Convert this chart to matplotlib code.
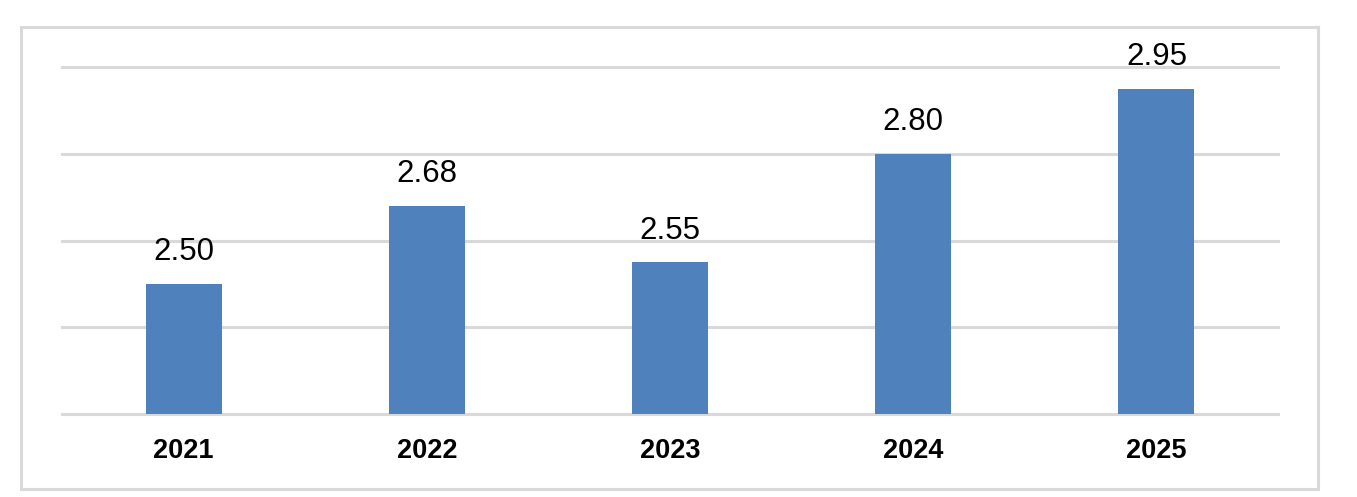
import matplotlib.pyplot as plt
from matplotlib.patches import Rectangle

years = ['2021', '2022', '2023', '2024', '2025']
values = [2.50, 2.68, 2.55, 2.80, 2.95]
labels = ['2.50', '2.68', '2.55', '2.80', '2.95']
grid_ticks = [2.2, 2.4, 2.6, 2.8, 3.0]

plt.rcParams['font.family'] = ['Liberation Sans', 'DejaVu Sans']

fig = plt.figure(figsize=(13.57, 4.97), dpi=100)
ax = fig.add_axes([62/1357, 1-414/497, (1278-62)/1357, (414-67)/497])

x = range(len(years))
ax.bar(x, values, width=0.3125, color='#4F81BD', zorder=3)
for i, v in enumerate(values):
    ax.annotate(labels[i], (i, v), xytext=(0, 17), textcoords='offset points',
                ha='center', va='baseline', fontsize=22.5, color='black')

ax.set_xlim(-0.5, len(years) - 0.5)
ax.set_ylim(2.2, 3.0)
ax.set_yticks(grid_ticks)
ax.yaxis.grid(True, color='#D9D9D9', linewidth=2.2, zorder=0)
for gl in ax.get_ygridlines():
    gl.set_clip_on(False)
ax.tick_params(axis='y', left=False, labelleft=False)
ax.set_xticks(list(x))
ax.set_xticklabels(years, fontsize=19.5, fontweight='bold')
ax.tick_params(axis='x', length=0, pad=17)
for s in ax.spines.values():
    s.set_visible(False)

fig.patches.append(Rectangle((21/1357, 1-489/497), (1318-21)/1357, (489-27)/497,
                             transform=fig.transFigure, fill=False,
                             edgecolor='#D9D9D9', linewidth=2.2))

fig.savefig('out.png', dpi=100)
